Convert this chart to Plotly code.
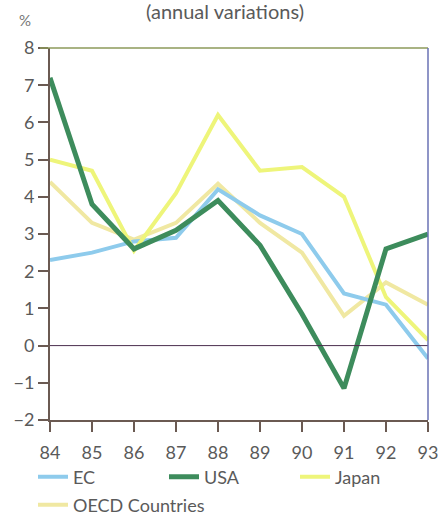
import plotly.graph_objects as go

years = [84, 85, 86, 87, 88, 89, 90, 91, 92, 93]
ec = [2.3, 2.5, 2.8, 2.9, 4.2, 3.5, 3.0, 1.4, 1.1, -0.35]
usa = [7.2, 3.8, 2.6, 3.1, 3.9, 2.7, 0.85, -1.15, 2.6, 3.0]
japan = [5.0, 4.7, 2.55, 4.1, 6.2, 4.7, 4.8, 4.0, 1.3, 0.15]
oecd = [4.4, 3.3, 2.85, 3.3, 4.35, 3.3, 2.5, 0.8, 1.7, 1.1]
y_ticks = [-2, -1, 0, 1, 2, 3, 4, 5, 6, 7, 8]
y_labels = ["\u22122", "\u22121", "0", "1", "2", "3", "4", "5", "6", "7", "8"]

FONT = "Lato, 'Open Sans', sans-serif"
TEXT = "#5a5a5a"

W, H = 438, 516
ML, MR, MT, MB = 50, 10, 48, 96
PW, PH = W - ML - MR, H - MT - MB

# name, values, colour, width, legend row
series = [
    ("EC", ec, "#8ecbec", 4, "legend"),
    ("USA", usa, "#3d8c5c", 5, "legend"),
    ("Japan", japan, "#eef57a", 4, "legend"),
    ("OECD Countries", oecd, "#f0e8a2", 4, "legend2"),
]

fig = go.Figure()
# draw back-to-front so the darker series sit on top
draw_order = ["OECD Countries", "EC", "Japan", "USA"]
legend_order = [s[0] for s in series]
for name in draw_order:
    _, vals, col, w, lg = next(s for s in series if s[0] == name)
    fig.add_trace(go.Scatter(
        x=years, y=vals, mode="lines", name=name,
        line=dict(color=col, width=w), legend=lg,
        legendrank=legend_order.index(name) + 1,
    ))

fig.add_hline(y=0, line=dict(color="#4a2e4e", width=1))


def px_x(px):
    return (px - ML) / PW


def px_y(py):
    return 1 - (py - MT) / PH


legend_common = dict(
    orientation="h", xref="paper", x=px_x(33), xanchor="left",
    yref="paper", yanchor="middle", itemwidth=30, entrywidthmode="pixels",
    font=dict(size=18, color=TEXT), traceorder="normal",
    bgcolor="rgba(0,0,0,0)",
)

fig.update_layout(
    width=W, height=H,
    margin=dict(l=ML, r=MR, t=MT, b=MB, autoexpand=False),
    paper_bgcolor="white", plot_bgcolor="white",
    font=dict(family=FONT, color=TEXT, size=16),
    showlegend=True,
    legend=dict(legend_common, y=px_y(477), entrywidth=86),
    legend2=dict(legend_common, y=px_y(505), entrywidth=160),
    annotations=[
        dict(text="(annual variations)", xref="paper", x=px_x(225), xanchor="center",
             yref="paper", y=px_y(11), yanchor="middle",
             showarrow=False, font=dict(size=20, color=TEXT)),
        dict(text="%", xref="paper", yref="paper", xanchor="center",
             x=px_x(25), y=px_y(20), yanchor="middle",
             showarrow=False, font=dict(size=15, color="#777")),
    ],
)

fig.update_xaxes(
    range=[84, 93], tickmode="array", tickvals=years,
    ticktext=[str(y) for y in years],
    showgrid=False, zeroline=False,
    showline=True, linecolor="#6b5a52", linewidth=2,
    ticks="outside", ticklen=10, tickwidth=2, tickcolor="#6b5a52",
    ticklabelstandoff=5, ticklabeloverflow="allow",
    tickfont=dict(size=18, color=TEXT),
)
fig.update_yaxes(
    range=[-2, 8], tickmode="array", tickvals=y_ticks, ticktext=y_labels,
    showgrid=False, zeroline=False,
    showline=True, linecolor="#6b5a52", linewidth=2,
    ticks="outside", ticklen=10, tickwidth=1.5, tickcolor="#6b5a52",
    tickfont=dict(size=18, color=TEXT),
)
# top and right frame edges
fig.add_shape(type="line", xref="paper", yref="paper", x0=px_x(40), x1=1, y0=1, y1=1,
              line=dict(color="#8c9a5a", width=1.5))
fig.add_shape(type="line", xref="paper", yref="paper", x0=1, x1=1, y0=0, y1=1,
              line=dict(color="#6a72b4", width=1.5))

fig.write_html("out.html")
